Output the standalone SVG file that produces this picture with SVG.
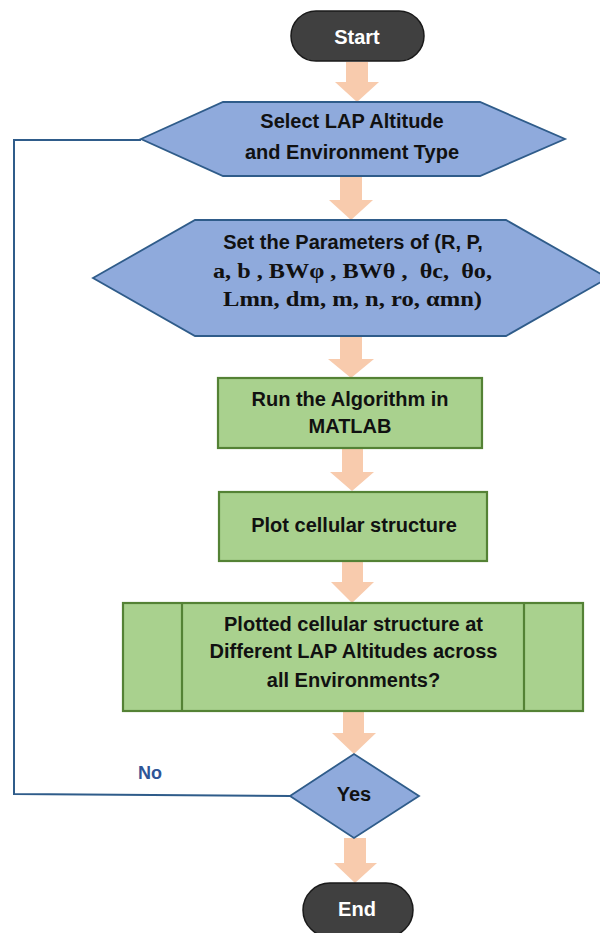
<svg xmlns="http://www.w3.org/2000/svg" width="600" height="933" viewBox="0 0 600 933">
<style>
.term{fill:#404040;stroke:#1a1a1a;stroke-width:1.5}
.hex{fill:#8FAADC;stroke:#2F5C8A;stroke-width:1.8}
.box{fill:#A9D18E;stroke:#548235;stroke-width:2.2}
.arr{fill:#F8CBAD;stroke:none}
.t{font-family:"Liberation Sans",Arial,sans-serif;font-weight:bold;font-size:20px;fill:#111;text-anchor:middle}
.s{font-family:"Liberation Serif","Times New Roman",serif;font-weight:bold;font-size:20px;fill:#111;text-anchor:middle;white-space:pre}
.w{fill:#fff}
.link{fill:none;stroke:#2F5C8A;stroke-width:2}
.lbl{font-family:"Liberation Sans",Arial,sans-serif;font-weight:bold;font-size:18px;fill:#2F5597;text-anchor:middle}
</style>
<rect width="600" height="933" fill="#fff"/>
<g id="connectors">
<polygon class="arr" points="346,62 368,62 368,82 379,82 357,102 335,82 346,82"/>
<polygon class="arr" points="340,176 362,176 362,200 373,200 351,220 329,200 340,200"/>
<polygon class="arr" points="340,336 362,336 362,359 374,359 351,378 328,359 340,359"/>
<polygon class="arr" points="342,448 363,448 363,472 374,472 352,491 330,472 342,472"/>
<polygon class="arr" points="342,561 363,561 363,582 374,582 352,603 331,582 342,582"/>
<polygon class="arr" points="343,711 364,711 364,733 376,733 354,754 332,733 343,733"/>
<polygon class="arr" points="344,838 366,838 366,863 377,863 355,883 334,863 344,863"/>
<polyline class="link" points="291,796 14,794 14,140 141,140"/>
<text class="lbl" x="150" y="779">No</text>
</g>
<g id="start">
<rect class="term" x="291" y="11" width="133" height="50" rx="25"/>
<text class="t w" x="357" y="44" font-size="17">Start</text>
</g>
<g id="select">
<polygon class="hex" points="141,139 223,102 480,102 565,139 480,176 223,176"/>
<text class="t" x="352" y="128">Select LAP Altitude</text>
<text class="t" x="352" y="159">and Environment Type</text>
</g>
<g id="params">
<polygon class="hex" points="93,278 195,220 506,220 608,278 506,336 195,336"/>
<text class="t" x="353" y="249">Set the Parameters of (R, P,</text>
<text class="s" x="352.5" y="278" textLength="279" lengthAdjust="spacingAndGlyphs">a, b , BWφ , BWθ ,  θc,  θo,</text>
<text class="s" x="352.5" y="306" textLength="259" lengthAdjust="spacingAndGlyphs">Lmn, dm, m, n, ro, αmn)</text>
</g>
<g id="run">
<rect class="box" x="218" y="378" width="264" height="70"/>
<text class="t" x="350" y="406">Run the Algorithm in</text>
<text class="t" x="350" y="433">MATLAB</text>
</g>
<g id="plot">
<rect class="box" x="219" y="492" width="268" height="69"/>
<text class="t" x="354" y="532">Plot cellular structure</text>
</g>
<g id="plotted">
<rect class="box" x="123" y="603" width="460" height="108"/>
<line class="box" x1="182" y1="603" x2="182" y2="711"/>
<line class="box" x1="524" y1="603" x2="524" y2="711"/>
<text class="t" x="353.5" y="631">Plotted cellular structure at</text>
<text class="t" x="353.5" y="658">Different LAP Altitudes across</text>
<text class="t" x="353.5" y="687">all Environments?</text>
</g>
<g id="decision">
<polygon class="hex" points="290,796 354,754 419,796 354,838"/>
<text class="t" x="354" y="801" font-size="17">Yes</text>
</g>
<g id="end">
<rect class="term" x="303" y="883" width="110" height="54" rx="27"/>
<text class="t w" x="357" y="916" font-size="17">End</text>
</g>
</svg>
